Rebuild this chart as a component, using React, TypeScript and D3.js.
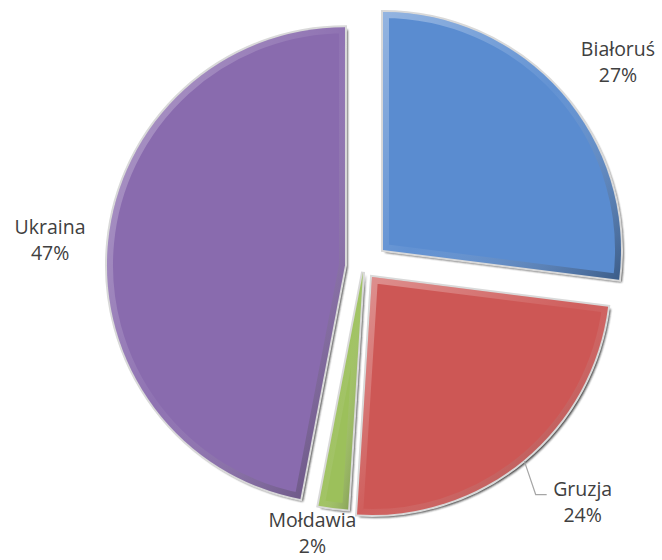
import React, { useRef, useEffect } from 'react';
import * as d3 from 'd3';

// Chart data
const countries: string[] = ['Białoruś', 'Gruzja', 'Mołdawia', 'Ukraina'];
const shares: number[] = [27, 24, 2, 47];
const colors: string[] = ['#5a8cd0', '#cd5755', '#9cc05b', '#896bae'];

// Layout constants (explosion of each slice, label distance and small nudges)
const explode: number[] = [25.7, 13, 5, 18.8];
const labelDist: number[] = [327, 320, 273, 315];
const labelNudge: [number, number][] = [[9, 11], [15, -12], [-17, -5], [0, 3]];

const WIDTH = 662;
const HEIGHT = 560;

interface Slice {
  name: string;
  value: number;
  color: string;
}

const slices: Slice[] = countries.map((name, i) => ({ name, value: shares[i], color: colors[i] }));

export default function App() {
  const svgRef = useRef<SVGSVGElement>(null);

  useEffect(() => {
    if (!svgRef.current) return;
    document.body.style.margin = '0';

    const svg = d3.select(svgRef.current);
    svg.selectAll('*').remove();
    svg.attr('width', WIDTH).attr('height', HEIGHT);

    const cx = 363.7;
    const cy = 267;
    const radius = 238;

    const defs = svg.append('defs');

    // Soft shadow
    const shadow = defs.append('filter')
      .attr('id', 'shadow')
      .attr('x', '-10%').attr('y', '-10%')
      .attr('width', '130%').attr('height', '130%');
    shadow.append('feGaussianBlur').attr('stdDeviation', 1);

    // Bevel gradient (light top-left, dark bottom-right)
    const bevel = defs.append('linearGradient')
      .attr('id', 'bevel')
      .attr('x1', '0').attr('y1', '0')
      .attr('x2', '1').attr('y2', '1');
    bevel.append('stop').attr('offset', '0%').attr('stop-color', '#ffffff').attr('stop-opacity', 0.35);
    bevel.append('stop').attr('offset', '50%').attr('stop-color', '#ffffff').attr('stop-opacity', 0.05);
    bevel.append('stop').attr('offset', '100%').attr('stop-color', '#000000').attr('stop-opacity', 0.35);

    const pie = d3.pie<Slice>()
      .sort(null)
      .value(d => d.value)
      .startAngle(0)
      .endAngle(2 * Math.PI);

    const arc = d3.arc<d3.PieArcDatum<Slice>>()
      .innerRadius(0)
      .outerRadius(radius);

    const arcs = pie(slices);

    const g = svg.append('g').attr('transform', `translate(${cx},${cy})`);

    arcs.forEach((a, i) => {
      const mid = (a.startAngle + a.endAngle) / 2;
      const dx = Math.sin(mid) * explode[i];
      const dy = -Math.cos(mid) * explode[i];
      const sg = g.append('g').attr('transform', `translate(${dx},${dy})`);
      const d = arc(a) as string;

      defs.append('clipPath')
        .attr('id', `clip-${i}`)
        .append('path')
        .attr('d', d);

      // shadow underneath
      sg.append('path')
        .attr('d', d)
        .attr('transform', 'translate(2.5,2.5)')
        .attr('fill', '#1a1a1a')
        .attr('opacity', 0.85)
        .attr('filter', 'url(#shadow)');

      // light rim
      sg.append('path')
        .attr('d', d)
        .attr('fill', '#d4d4d4')
        .attr('stroke', '#d9d9d9')
        .attr('stroke-width', 4)
        .attr('stroke-linejoin', 'miter');

      // body
      sg.append('path')
        .attr('d', d)
        .attr('fill', a.data.color);

      // bevel edge
      sg.append('path')
        .attr('d', d)
        .attr('fill', 'none')
        .attr('stroke', 'url(#bevel)')
        .attr('stroke-width', 12)
        .attr('clip-path', `url(#clip-${i})`);
    });

    // Labels
    const labels = svg.append('g')
      .attr('font-family', '"Open Sans", sans-serif')
      .attr('font-size', 19.5)
      .attr('fill', '#404040')
      .attr('text-anchor', 'middle');

    arcs.forEach((a, i) => {
      const mid = (a.startAngle + a.endAngle) / 2;
      const ax = cx + Math.sin(mid) * labelDist[i] + labelNudge[i][0];
      const ay = cy - Math.cos(mid) * labelDist[i] + labelNudge[i][1];

      labels.append('text')
        .attr('x', ax)
        .attr('y', ay - 6)
        .text(a.data.name);
      labels.append('text')
        .attr('x', ax)
        .attr('y', ay + 20)
        .text(`${a.data.value}%`);

      // Leader line for the label placed away from its slice
      if (a.data.name === 'Gruzja') {
        const ox = cx + Math.sin(mid) * (explode[i] + radius + 1);
        const oy = cy - Math.cos(mid) * (explode[i] + radius + 1);
        const pts: [number, number][] = [[ox, oy], [ax - 47, ay - 7], [ax - 36, ay - 7]];
        svg.append('path')
          .attr('d', d3.line()(pts) as string)
          .attr('fill', 'none')
          .attr('stroke', '#a6a6a6')
          .attr('stroke-width', 1.2);
      }
    });
  }, []);

  return (
    <div style={{ position: 'absolute', left: 0, top: 0, width: WIDTH, height: HEIGHT, background: '#fff' }}>
      <svg ref={svgRef} />
    </div>
  );
}
